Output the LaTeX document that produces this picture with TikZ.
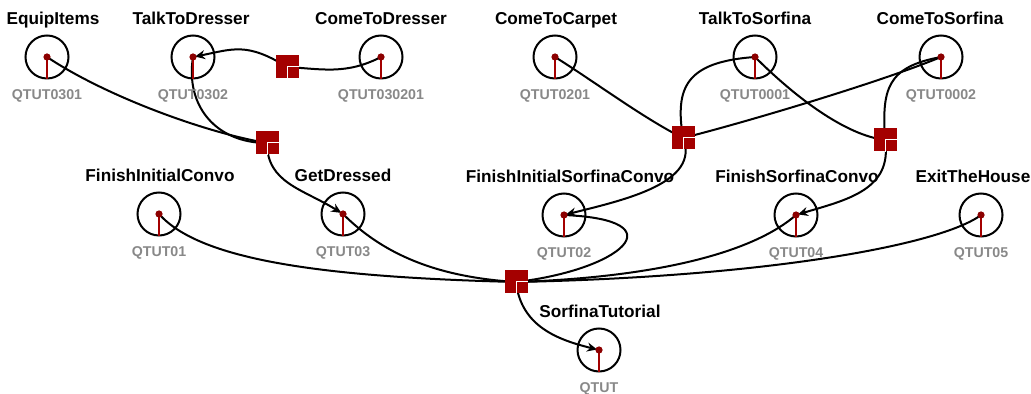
\documentclass[tikz,border=0pt]{standalone}
\usepackage{fontspec}
\setmainfont{Liberation Sans}
\usetikzlibrary{arrows.meta,backgrounds}
\definecolor{qred}{RGB}{164,0,0}
\definecolor{qdot}{RGB}{140,0,0}
\definecolor{qgray}{RGB}{136,136,136}

\begin{document}
\begin{tikzpicture}[x=0.5pt, y=-0.5pt,
                    quest/.style={circle, draw, line width=1pt,
                                  minimum size=21.5pt, inner sep=0pt},
                    gate/.style={rectangle, fill=qred,
                                 minimum size=11.5pt, inner sep=0pt},
                    title/.style={anchor=base,
                                  font=\bfseries\fontsize{8.6}{10}\selectfont},
                    code/.style={anchor=base, text=qgray,
                                 font=\bfseries\fontsize{7.1}{9}\selectfont},
                    link/.style={line width=1pt},
                    arrowlink/.style={link, shorten >=1pt,
                                      -{Stealth[length=5pt, width=4.5pt]}}]
  \useasboundingbox (0,0) rectangle (1031,394);

  % quests
  \foreach \n/\x/\y/\tx/\t in {QTUT0301/47/57/53/EquipItems,
                               QTUT0302/193/57/191/TalkToDresser,
                               QTUT030201/381/57/381/ComeToDresser,
                               QTUT0201/555/57/556/ComeToCarpet,
                               QTUT0001/755/57/755/TalkToSorfina,
                               QTUT0002/941/57/940/ComeToSorfina,
                               QTUT01/159/214/160/FinishInitialConvo,
                               QTUT03/343/214/343/GetDressed,
                               QTUT02/564/215/570/FinishInitialSorfinaConvo,
                               QTUT04/796/215/797/FinishSorfinaConvo,
                               QTUT05/981/215/973/ExitTheHouse,
                               QTUT/599/350/600/SorfinaTutorial} {
    \node[quest] (\n) at (\x,\y) {};
    \draw[qred, line width=1.2pt] (\n.center) -- (\n.south);
    \fill[qdot] (\n.center) circle (1.8pt);
    \node[title] at (\tx,\y-32) {\t};
    \node[code] at (\x,\y+43) {\n};
  }

  % gates
  \node[gate] (j1) at (287,67) {};
  \node[gate] (j2) at (267,143) {};
  \node[gate] (j3) at (683,138) {};
  \node[gate] (j4) at (885,140) {};
  \node[gate] (j5) at (516,282) {};
  \foreach \g in {j1, j2, j3, j4, j5} {
    \draw[white, line width=0.5pt] (\g.center) -- (\g.east)
                                   (\g.center) -- (\g.south);
  }

  \begin{scope}[on background layer]
    \foreach \a/\px/\py/\qx/\qy/\b in {QTUT030201/-35/18/35/2/j1,
                                       QTUT0301/60/40/-60/-10/j2,
                                       QTUT0302/-8/50/-50/0/j2,
                                       QTUT0201/40/25/-40/-20/j3,
                                       QTUT0001/-70/5/-8/-50/j3,
                                       QTUT0002/-60/25/60/-15/j3,
                                       QTUT0001/40/40/-40/-5/j4,
                                       QTUT0002/-55/10/-3/-50/j4,
                                       QTUT01/40/45/-200/-5/j5,
                                       QTUT03/40/40/-80/-5/j5,
                                       QTUT02/116/5/104/-12/j5,
                                       QTUT04/-40/35/150/-5/j5,
                                       QTUT05/-40/30/250/-5/j5} {
      \draw[link] (\a.center) .. controls +(\px,\py) and +(\qx,\qy) .. (\b.center);
    }
    \foreach \a/\px/\py/\qx/\qy/\b in {j1/-40/-25/40/-8/QTUT0302,
                                       j2/0/40/-40/-25/QTUT03,
                                       j3/18/45/60/-15/QTUT02,
                                       j4/8/50/50/-15/QTUT04,
                                       j5/5/45/-40/-10/QTUT} {
      \draw[arrowlink] (\a.center) .. controls +(\px,\py) and +(\qx,\qy) .. (\b.center);
    }
  \end{scope}
\end{tikzpicture}
\end{document}
